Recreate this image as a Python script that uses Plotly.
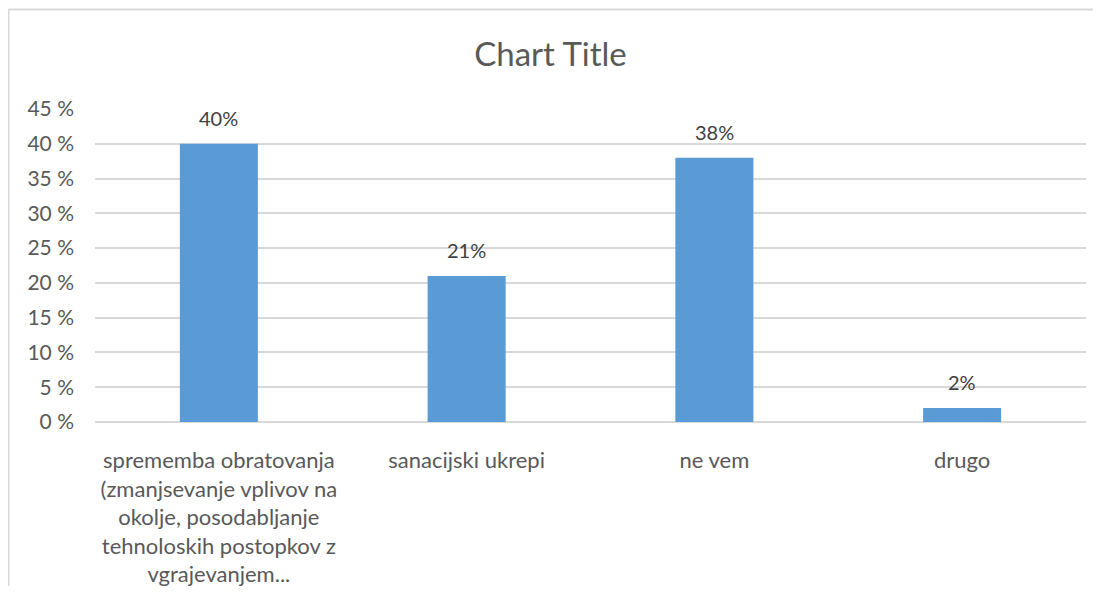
import plotly.graph_objects as go

# Chart data
categories = [
    "sprememba obratovanja<br>(zmanjsevanje vplivov na<br>okolje, posodabljanje<br>tehnoloskih postopkov z<br>vgrajevanjem...",
    "sanacijski ukrepi",
    "ne vem",
    "drugo",
]
values = [40, 21, 38, 2]
value_labels = ["40%", "21%", "38%", "2%"]
y_ticks = [0, 5, 10, 15, 20, 25, 30, 35, 40, 45]
y_tick_labels = ["0 %", "5 %", "10 %", "15 %", "20 %", "25 %", "30 %", "35 %", "40 %", "45 %"]

BAR_COLOR = "#5b9bd5"
TEXT_COLOR = "#595959"
GRID_COLOR = "#d9d9d9"
FONT = "Lato, Open Sans, sans-serif"

fig = go.Figure()

fig.add_trace(go.Bar(
    x=categories,
    y=values,
    marker=dict(color=BAR_COLOR, line=dict(width=0)),
    width=0.315,
    hoverinfo="skip",
))

# Data labels sitting above each bar
for cat, val, lab in zip(categories, values, value_labels):
    fig.add_annotation(
        x=cat, y=val, text=lab,
        showarrow=False, yanchor="bottom", yshift=12,
        font=dict(size=20, color="#404040", family=FONT),
    )

# Chart-area border (left and top edges visible in the reference)
fig.add_shape(type="line", xref="paper", yref="paper",
              x0=-0.0873, x1=-0.0873, y0=1.318, y1=-0.7,
              line=dict(color=GRID_COLOR, width=2))
fig.add_shape(type="line", xref="paper", yref="paper",
              x0=-0.0873, x1=1.02, y0=1.318, y1=1.318,
              line=dict(color=GRID_COLOR, width=2))

fig.update_layout(
    title=dict(
        text="Chart Title",
        x=0.5, xanchor="center",
        y=0.919, yanchor="middle",
        font=dict(size=33, color=TEXT_COLOR, family=FONT),
    ),
    xaxis=dict(
        showgrid=False,
        showline=False,
        automargin=False,
        tickfont=dict(size=22, color=TEXT_COLOR, family=FONT),
        ticks="",
        ticklabelstandoff=23,
        tickangle=0,
    ),
    yaxis=dict(
        range=[0, 45],
        tickvals=y_ticks,
        ticktext=y_tick_labels,
        automargin=False,
        showgrid=True,
        gridcolor=GRID_COLOR,
        gridwidth=1.5,
        zeroline=True,
        zerolinecolor=GRID_COLOR,
        zerolinewidth=1.5,
        showline=False,
        tickfont=dict(size=21, color=TEXT_COLOR, family=FONT),
        ticklabelstandoff=20,
    ),
    bargap=0.685,
    plot_bgcolor="white",
    paper_bgcolor="white",
    showlegend=False,
    width=1085,
    height=578,
    margin=dict(l=87, r=7, t=101, b=164),
)

fig.write_html(
    "out.html",
    config={"displayModeBar": False},
    post_script="document.body.style.overflow = 'hidden';",
)
